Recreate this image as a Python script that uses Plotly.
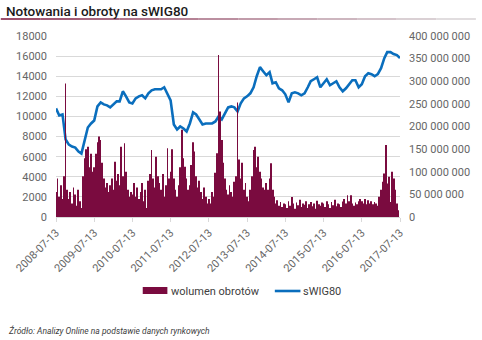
import numpy as np
import pandas as pd
import plotly.graph_objects as go

# ---------------- DATA ----------------
title_text = "Notowania i obroty na sWIG80"
source_text = "Źródło: Analizy Online na podstawie danych rynkowych"
bar_name = "wolumen obrotów"
line_name = "sWIG80"

start_date = "2008-07-13"

# semi-monthly trading volume, millions PLN
volume_mln = [
    # 2008-07 .. 2009-07
    55, 85, 45, 70, 40, 90, 295, 60, 40, 55, 30, 65, 50, 25, 60, 35, 20, 90, 130, 150, 155, 110, 140, 100,
    # 2009-07 .. 2010-07
    110, 140, 165, 178, 170, 120, 85, 65, 75, 55, 70, 85, 60, 122, 80, 95, 70, 155, 90, 163, 100, 60, 45, 55,
    # 2010-07 .. 2011-07
    50, 75, 45, 65, 40, 55, 75, 35, 60, 20, 80, 95, 148, 85, 65, 133, 90, 75, 60, 95, 45, 70, 152, 85,
    # 2011-07 .. 2012-07
    100, 150, 85, 60, 45, 70, 110, 193, 130, 111, 85, 60, 70, 115, 165, 145, 90, 65, 80, 55, 40, 65, 45, 30,
    # 2012-07 .. 2013-07
    40, 30, 55, 45, 98, 141, 358, 233, 170, 120, 85, 60, 50, 70, 55, 45, 78, 90, 253, 127, 85, 120, 60, 75,
    # 2013-07 .. 2014-07
    45, 35, 60, 90, 148, 155, 110, 133, 100, 85, 65, 60, 75, 60, 85, 119, 60, 45, 30, 37, 25, 33, 22, 30,
    # 2014-07 .. 2015-07
    28, 20, 35, 25, 44, 30, 18, 32, 26, 38, 22, 30, 27, 35, 20, 28, 33, 24, 30, 18, 36, 28, 25, 32,
    # 2015-07 .. 2016-07
    30, 22, 35, 28, 20, 33, 26, 38, 24, 30, 28, 22, 34, 40, 30, 48, 35, 48, 30, 25, 32, 28, 35, 40,
    # 2016-07 .. 2017-07
    35, 30, 40, 28, 37, 30, 35, 28, 33, 30, 25, 45, 60, 78, 96, 159, 74, 89, 33, 100, 85, 60, 30, 15,
]

# monthly index level
swig80 = [
    10800, 10100, 10200, 7700, 7200, 7000, 6900, 6500, 6300, 7800, 8900, 9300,
    9600, 11000, 11400, 11200, 11100, 10900, 11200, 11500, 11500, 12500, 12000, 11400,
    11300, 11800, 12000, 12100, 11800, 12300, 12600, 12700, 12700, 12700, 12900, 12300,
    11600, 9200, 8700, 9000, 8800, 8500, 9300, 10400, 10200, 9700, 9200, 9300,
    9300, 9300, 9500, 10000, 9700, 10300, 10900, 11000, 10900, 10500, 11300, 11800,
    12000, 12300, 12900, 14000, 14900, 14500, 14100, 14400, 13300, 13400, 12800, 12600,
    12200, 11400, 12300, 12400, 12300, 12100, 12300, 12900, 13500, 13700, 13900, 12900,
    13300, 13700, 13100, 13300, 13500, 12900, 12500, 12800, 13200, 13600, 13600, 12900,
    13200, 14000, 14300, 14200, 14000, 14200, 14800, 15800, 16400, 16400, 16200, 16100,
    15800,
]

x_tick_labels = ["2008-07-13", "2009-07-13", "2010-07-13", "2011-07-13", "2012-07-13",
                 "2013-07-13", "2014-07-13", "2015-07-13", "2016-07-13", "2017-07-13"]
left_ticks = [0, 2000, 4000, 6000, 8000, 10000, 12000, 14000, 16000, 18000]
left_tick_text = [str(v) for v in left_ticks]
right_ticks = [0, 50e6, 100e6, 150e6, 200e6, 250e6, 300e6, 350e6, 400e6]
right_tick_text = ["0", "50 000 000", "100 000 000", "150 000 000", "200 000 000",
                   "250 000 000", "300 000 000", "350 000 000", "400 000 000"]

# ---------------- BUILD ----------------
base = pd.Timestamp(start_date)
bar_dates = base + pd.to_timedelta(np.arange(len(volume_mln)) * 365.25 / 24, unit="D")
line_dates = [base + pd.DateOffset(months=i) for i in range(len(swig80))]
volume = [v * 1e6 for v in volume_mln]

BAR_COLOR = "#7a0b3f"
LINE_COLOR = "#0a6ebd"
TICK_COLOR = "#666666"
FONT = "Roboto"

fig = go.Figure()
fig.add_trace(go.Bar(x=bar_dates, y=volume, name=bar_name, marker_color=BAR_COLOR,
                     marker_line_width=0, yaxis="y2", showlegend=False))
fig.add_trace(go.Scatter(x=line_dates, y=swig80, name=line_name, mode="lines",
                         line=dict(color=LINE_COLOR, width=2.6), yaxis="y", showlegend=False))

W, H = 482, 340
ml, mr, mt, mb = 56, 77, 36, 123
pw, ph = W - ml - mr, H - mt - mb

def px_x(px):
    return (px - ml) / pw

def px_y(py):
    return (H - mb - py) / ph

shapes = []
# title underline fading to the right
n_seg = 12
c0 = np.array([123, 20, 58])
c1 = np.array([215, 210, 212])
for i in range(n_seg):
    t = i / (n_seg - 1)
    c = (c0 * (1 - t) + c1 * t).astype(int)
    shapes.append(dict(type="line", xref="paper", yref="paper",
                       x0=px_x(i * W / n_seg), x1=px_x((i + 1) * W / n_seg),
                       y0=px_y(19), y1=px_y(19),
                       line=dict(color=f"rgb({c[0]},{c[1]},{c[2]})", width=1.5)))
# legend swatches
shapes.append(dict(type="rect", xref="paper", yref="paper",
                   x0=px_x(144), x1=px_x(169), y0=px_y(294), y1=px_y(287),
                   fillcolor=BAR_COLOR, line_width=0))
shapes.append(dict(type="line", xref="paper", yref="paper",
                   x0=px_x(278), x1=px_x(304), y0=px_y(291), y1=px_y(291),
                   line=dict(color=LINE_COLOR, width=2.6)))

annotations = [
    dict(text=bar_name, xref="paper", yref="paper", x=px_x(171), y=px_y(291),
         xanchor="left", yanchor="middle", showarrow=False,
         font=dict(family=FONT, size=11, color="#404040")),
    dict(text=line_name, xref="paper", yref="paper", x=px_x(305), y=px_y(291),
         xanchor="left", yanchor="middle", showarrow=False,
         font=dict(family=FONT, size=11, color="#404040")),
    dict(text="<i>" + source_text + "</i>", xref="paper", yref="paper", x=px_x(5), y=px_y(330),
         xanchor="left", yanchor="middle", showarrow=False,
         font=dict(family=FONT, size=8.5, color="#404040")),
]

fig.update_layout(
    width=W, height=H,
    margin=dict(l=ml, r=mr, t=mt, b=mb, pad=0),
    paper_bgcolor="white", plot_bgcolor="white",
    bargap=0.5,
    title=dict(text=title_text, x=6 / W, xanchor="left", y=1 - 11 / H, yanchor="middle",
               font=dict(family=FONT, size=13.5, color="#1a1a1a", weight=500)),
    font=dict(family=FONT, size=11, color=TICK_COLOR),
    xaxis=dict(type="date", range=[pd.Timestamp(x_tick_labels[0]), pd.Timestamp(x_tick_labels[-1])],
               tickmode="array", tickvals=[pd.Timestamp(t) for t in x_tick_labels],
               ticktext=x_tick_labels, tickangle=-45, showgrid=False,
               ticks="outside", ticklen=4, tickcolor="#d9d9d9",
               showline=True, linecolor="#d9d9d9", linewidth=1,
               tickfont=dict(family=FONT, size=11, color=TICK_COLOR)),
    yaxis=dict(range=[0, 18000], tickmode="array", tickvals=left_ticks, ticktext=left_tick_text,
               showgrid=True, gridcolor="#d9d9d9", gridwidth=1, zeroline=False,
               ticks="", ticklabelstandoff=8,
               tickfont=dict(family=FONT, size=11, color=TICK_COLOR)),
    yaxis2=dict(range=[0, 400e6], overlaying="y", side="right", tickmode="array",
                tickvals=right_ticks, ticktext=right_tick_text, showgrid=False, zeroline=False,
                ticks="", ticklabelstandoff=8,
                tickfont=dict(family=FONT, size=11, color=TICK_COLOR)),
    shapes=shapes,
    annotations=annotations,
)

fig.write_html("out.html")
